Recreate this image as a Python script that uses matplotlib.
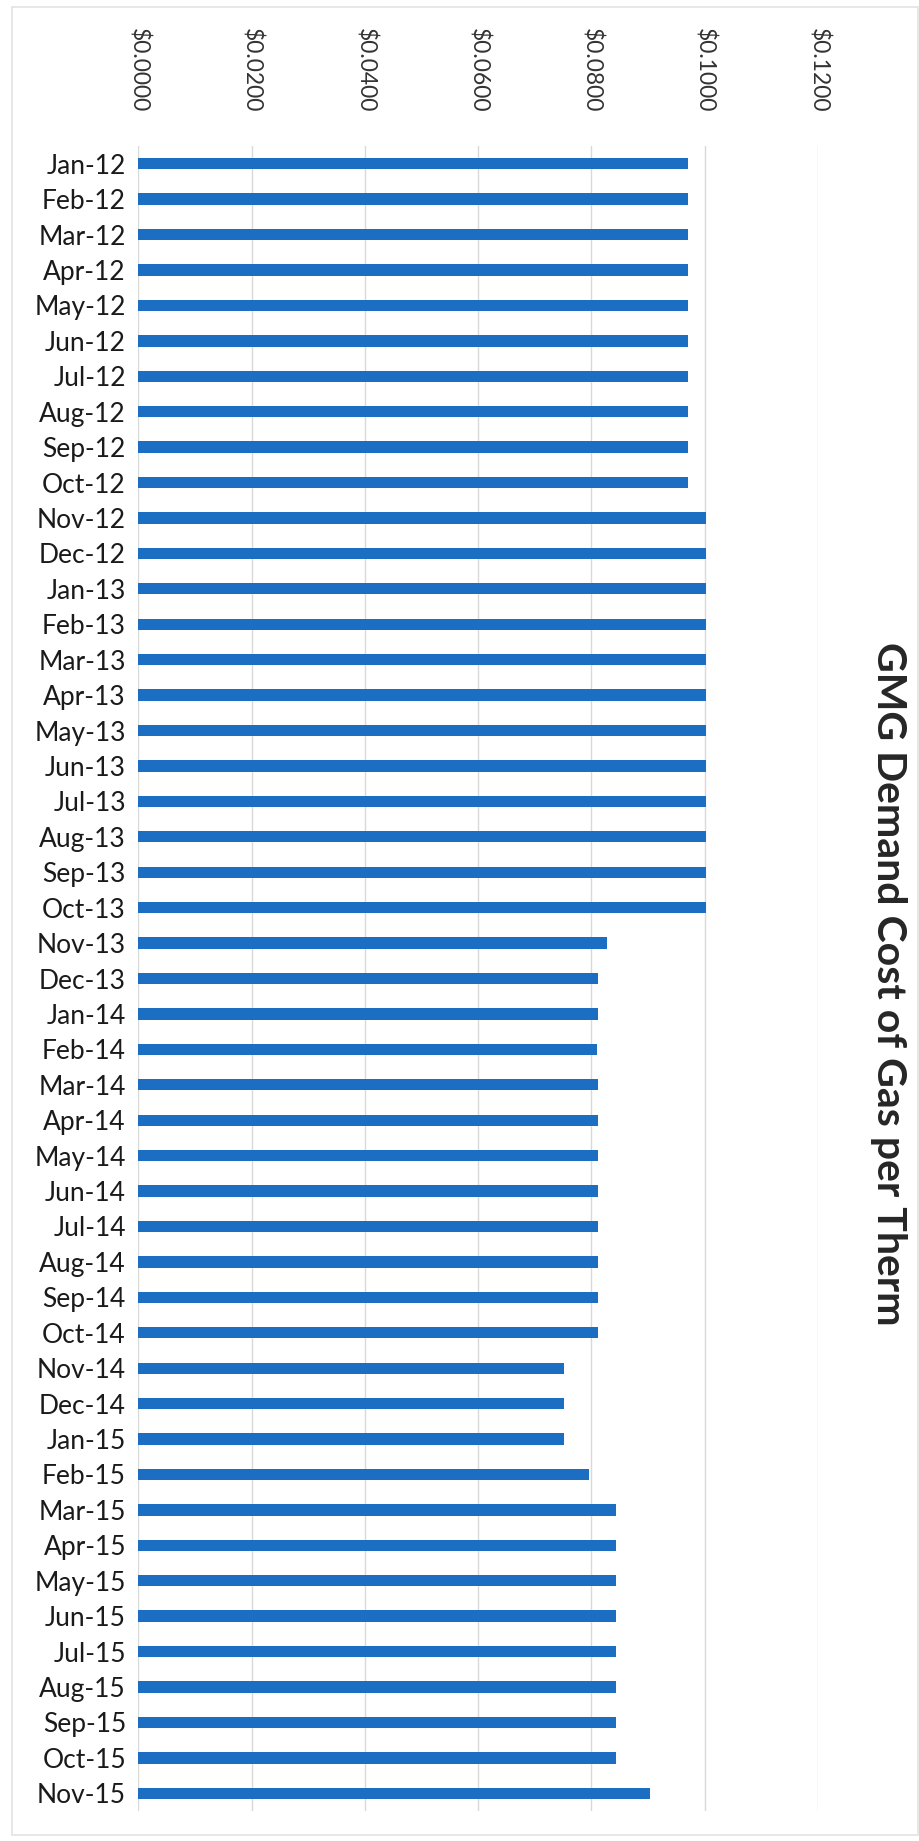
import matplotlib
matplotlib.use("Agg")
import matplotlib.pyplot as plt
from matplotlib.ticker import FuncFormatter
import numpy as np

months = ["Jan-12", "Feb-12", "Mar-12", "Apr-12", "May-12", "Jun-12", "Jul-12", "Aug-12",
          "Sep-12", "Oct-12", "Nov-12", "Dec-12", "Jan-13", "Feb-13", "Mar-13", "Apr-13",
          "May-13", "Jun-13", "Jul-13", "Aug-13", "Sep-13", "Oct-13", "Nov-13", "Dec-13",
          "Jan-14", "Feb-14", "Mar-14", "Apr-14", "May-14", "Jun-14", "Jul-14", "Aug-14",
          "Sep-14", "Oct-14", "Nov-14", "Dec-14", "Jan-15", "Feb-15", "Mar-15", "Apr-15",
          "May-15", "Jun-15", "Jul-15", "Aug-15", "Sep-15", "Oct-15", "Nov-15"]
cost = [0.0970, 0.0970, 0.0970, 0.0970, 0.0970, 0.0970, 0.0970, 0.0970,
        0.0970, 0.0970, 0.1003, 0.1003, 0.1003, 0.1003, 0.1003, 0.1003,
        0.1003, 0.1003, 0.1003, 0.1003, 0.1003, 0.1003, 0.0828, 0.0812,
        0.0812, 0.0809, 0.0812, 0.0812, 0.0812, 0.0812, 0.0812, 0.0812,
        0.0812, 0.0812, 0.0751, 0.0751, 0.0751, 0.0795, 0.0844, 0.0844,
        0.0844, 0.0844, 0.0844, 0.0844, 0.0844, 0.0844, 0.0903]
xticks = [0.0, 0.02, 0.04, 0.06, 0.08, 0.10, 0.12]
title = "GMG Demand Cost of Gas per Therm"

W, H = 920, 1841
fig = plt.figure(figsize=(W / 100, H / 100), dpi=100)
fig.patch.set_facecolor("white")

# chart border (light)
fig.add_artist(plt.Rectangle((12 / W, 1 - 1835 / H), (W - 14) / W, (1835 - 7) / H,
                             transform=fig.transFigure, fill=False,
                             edgecolor="#e3e3e3", linewidth=1.2))

left, right = 138.5 / W, 818 / W
top, bottom = 1 - 146 / H, 1 - 1811 / H
ax = fig.add_axes([left, bottom, right - left, top - bottom])

y = np.arange(len(months))
ax.barh(y, cost, height=0.32, color="#1b6ec2", zorder=3)
ax.set_ylim(len(months) - 0.5, -0.5)
ax.set_xlim(0, 0.12)

ax.set_xticks(xticks)
ax.xaxis.set_major_formatter(FuncFormatter(lambda v, p: f"${v:.4f}"))
ax.xaxis.tick_top()
ax.tick_params(axis="x", length=0, pad=24, labelsize=16.5, labelrotation=-90,
               labelcolor="#333333")
for lbl in ax.get_xticklabels():
    lbl.set_fontfamily(["Lato", "DejaVu Sans"])
    lbl.set_verticalalignment("bottom")

ax.set_yticks(y)
ax.set_yticklabels(months, fontsize=19, color="#1a1a1a",
                   fontfamily=["Lato", "DejaVu Sans"])
ax.tick_params(axis="y", length=0, pad=9)

ax.grid(axis="x", color="#d9d9d9", linewidth=1.0, zorder=0)
ax.grid(axis="y", visible=False)
for s in ax.spines.values():
    s.set_visible(False)

fig.text(888 / W, 1 - 984 / H, title, rotation=-90, ha="center", va="center",
         fontsize=29.5, fontweight="bold", color="#262626",
         family=["Lato", "DejaVu Sans"])

fig.savefig("out.png", dpi=100, facecolor="white")
